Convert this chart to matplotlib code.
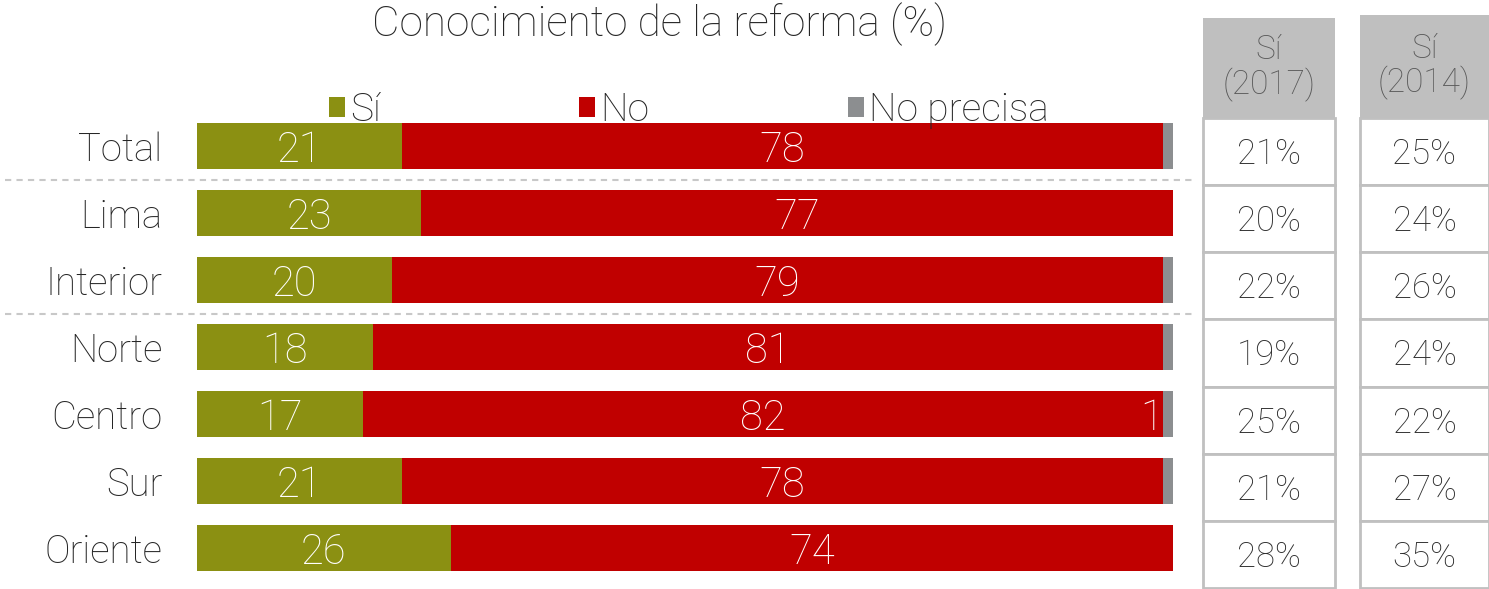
import matplotlib.pyplot as plt
from matplotlib.patches import Rectangle

plt.rcParams['font.family'] = ['Roboto', 'DejaVu Sans']
plt.rcParams['font.weight'] = 'light'

regions = ['Total', 'Lima', 'Interior', 'Norte', 'Centro', 'Sur', 'Oriente']
si = [21, 23, 20, 18, 17, 21, 26]
no = [78, 77, 79, 81, 82, 78, 74]
no_precisa = [1, 0, 1, 1, 1, 1, 0]
show_np = [False, False, False, False, True, False, False]

si_2017 = [21, 20, 22, 19, 25, 21, 28]
si_2014 = [25, 24, 26, 24, 22, 27, 35]
col_heads = ['Sí\n(2017)', 'Sí\n(2014)']

c_si = '#8b9012'
c_no = '#c00000'
c_np = '#8c8e90'
txt = '#262626'

W, H = 1489, 589
fig = plt.figure(figsize=(W / 100, H / 100), dpi=100)

# main bars
ax = fig.add_axes([197 / W, 1 - 581.5 / H, 976 / W, 469 / H])
y = list(range(len(regions)))
b1 = ax.barh(y, si, height=0.7, color=c_si, label='Sí')
b2 = ax.barh(y, no, left=si, height=0.7, color=c_no, label='No')
left3 = [a + b for a, b in zip(si, no)]
b3 = ax.barh(y, no_precisa, left=left3, height=0.7, color=c_np, label='No precisa')

for bars, vals in [(b1, si), (b2, no)]:
    lbls = ax.bar_label(bars, labels=[str(v) for v in vals], label_type='center',
                        color='white', fontsize=30)
    for t in lbls:
        t.set_va('center_baseline')
for i, v in enumerate(no_precisa):
    if show_np[i]:
        ax.text(left3[i], i, str(v), ha='right', va='center_baseline', color='white', fontsize=30)

ax.set_xlim(0, 100)
ax.set_ylim(6.5, -0.5)
ax.set_yticks(y)
ax.set_yticklabels(regions, fontsize=27.5, color=txt)
ax.tick_params(axis='y', length=0, pad=25)
ax.set_xticks([])
for s in ax.spines.values():
    s.set_visible(False)

for yy in [0.5, 2.5]:
    ax.plot([-19.7, 102.4], [yy, yy], ls=(0, (3, 2.5)), color='#c8c8c8', lw=1.5, clip_on=False)

fig.text(660 / W, 1 - 24 / H, 'Conocimiento de la reforma (%)', ha='center', va='center',
         fontsize=30.5, color=txt)

fig.legend(handles=[b1, b2, b3], loc='center left', bbox_to_anchor=(329 / W, 1 - 110 / H),
           ncol=3, frameon=False, fontsize=28, handlelength=0.4, handleheight=0.4,
           handletextpad=0.15, columnspacing=5.1, borderpad=0, borderaxespad=0,
           labelcolor=txt)

# comparison table
tab = fig.add_axes([0, 0, 1, 1])
tab.set_xlim(0, W)
tab.set_ylim(6.515, -2.2575)
tab.axis('off')
cols = [(1203, 1335, -1.99), (1360, 1489, -2.03)]
grid = '#c0c0c0'
for (x0, x1, top), head, vals in zip(cols, col_heads, [si_2017, si_2014]):
    tab.add_patch(Rectangle((x0, top), x1 - x0, -0.5 - top, facecolor='#bfbfbf', edgecolor='none'))
    tab.text((x0 + x1) / 2, (top - 0.5) / 2, head, ha='center', va='center', fontsize=24,
             color='#595959', linespacing=1.05)
    for i, v in enumerate(vals):
        tab.add_patch(Rectangle((x0, i - 0.5), x1 - x0, 1, facecolor='white', edgecolor=grid, lw=2))
        tab.text((x0 + x1) / 2, i + 0.04, f'{v}%', ha='center', va='center', fontsize=25, color='#2e2e2e')

fig.savefig('out.png', dpi=100)
